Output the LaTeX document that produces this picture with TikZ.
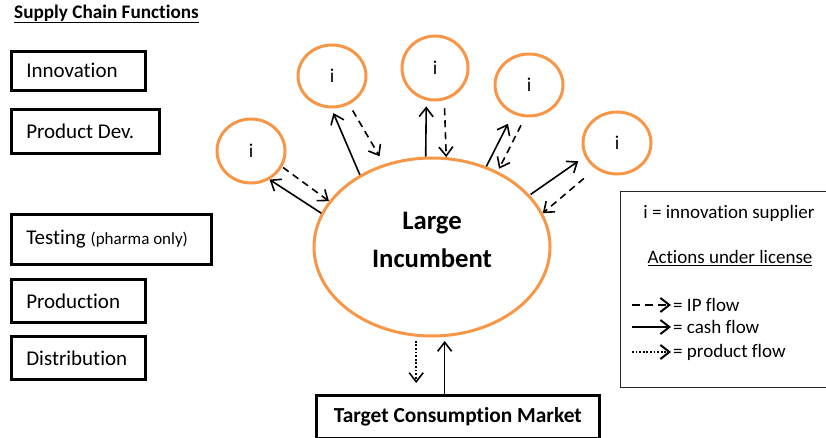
\documentclass[tikz,border=0pt]{standalone}
\usepackage{fontspec}
\setmainfont{Carlito}[Ligatures=NoCommon]
\usetikzlibrary{arrows.meta,shapes.geometric}
\definecolor{accent}{HTML}{F79646}
\begin{document}
\begin{tikzpicture}[x=1pt,y=-1pt,
  >={Straight Barb[length=9pt,width=14pt]},
  fnbox/.style={draw=black, line width=2.6pt, anchor=north west, inner xsep=15pt,
    inner ysep=0pt, align=flush left, font=\fontsize{21}{24}\selectfont},
  supplier/.style={draw=accent, line width=3pt, ellipse, inner sep=0pt,
    font=\fontsize{19.5}{22}\selectfont},
  flow/.style={->, line width=1.6pt},
  cash/.style={flow},
  ip/.style={flow, dash pattern=on 7pt off 5pt},
  prod/.style={flow, dash pattern=on 1.8pt off 1.8pt},
  legtext/.style={font=\fontsize{19}{22}\selectfont, inner sep=2pt}
]
\useasboundingbox (0,0) rectangle (826,438);

% supply chain functions
\node[anchor=west, inner sep=0pt, font=\fontsize{19.2}{22}\selectfont\bfseries]
  (title) at (14,14) {\underline{Supply Chain Functions}};
\node[fnbox, text width=104pt, minimum height=39pt] (innov) at (10,50) {Innovation};
\node[fnbox, text width=118pt, minimum height=44pt] (pdev) at (10,108) {Product Dev.};
\node[fnbox, text width=170pt, minimum height=50pt] (test) at (10,213)
  {Testing {\fontsize{17}{19}\selectfont(pharma only)}};
\node[fnbox, text width=104pt, minimum height=43pt] (prodn) at (10,278) {Production};
\node[fnbox, text width=104pt, minimum height=43pt] (distr) at (10,335) {Distribution};

% incumbent and innovation suppliers
\node[draw=accent, line width=3pt, ellipse, inner sep=0pt,
  minimum width=236pt, minimum height=178pt] (big) at (432,247) {};
\node[align=center, font=\fontsize{26.7}{38}\selectfont\bfseries] (bigtext) at (432,240)
  {Large\\Incumbent};

\node[supplier, minimum width=68pt, minimum height=64pt] (c1) at (251,151) {i};
\node[supplier, minimum width=68pt, minimum height=62pt] (c2) at (332,76) {i};
\node[supplier, minimum width=66pt, minimum height=64pt] (c3) at (435,68) {i};
\node[supplier, minimum width=68pt, minimum height=62pt] (c4) at (529,85) {i};
\node[supplier, minimum width=68pt, minimum height=62pt] (c5) at (617,143) {i};

% licensing flows
\draw[cash] (big.163) -- (c1.-57);
\draw[ip, shorten <=1pt] (c1.-27) -- (big.156);
\draw[cash, shorten >=5pt] (big.135) -- (c2.-91.5);
\draw[ip, shorten <=7pt, shorten >=9pt] (c2.-59) -- (big.120);
\draw[cash, shorten >=6pt] (big.94.5) -- (c3.-105);
\draw[ip, shorten <=8pt] (c3.-74) -- (big.81);
\draw[cash, shorten >=11pt] (big.56) -- (c4.-119.6);
\draw[ip, shorten <=9pt, shorten >=3pt] (c4.-97) -- (big.49);
\draw[cash, shorten <=1pt, shorten >=8pt] (big.28) -- (c5.-157.7);
\draw[ip, shorten <=15pt] (c5.-130) -- (big.17);

% market
\node[draw=black, line width=2.6pt, anchor=north west, minimum width=283pt,
  minimum height=43pt, font=\fontsize{21.4}{24}\selectfont\bfseries] (market) at (315,394)
  {Target Consumption Market};
\draw[prod, shorten <=4pt, shorten >=11pt] (big.-100.3) -- (big.-100.3 |- market.north);
\draw[cash, shorten >=4pt] (market.north -| big.-82.3) -- (big.-82.3);

% legend
\node[draw=black!85, line width=1.2pt, anchor=north west, minimum width=215pt,
  minimum height=196pt] (legend) at (620,191) {};
\node[legtext] (lsupp) at (729,213) {i = innovation supplier};
\node[legtext] (lact) at (730,258) {\underline{Actions under license}};
\node[legtext, anchor=west] (lip) at (671,305) {= IP flow};
\node[legtext, anchor=west] (lcash) at (671,327) {= cash flow};
\node[legtext, anchor=west] (lprod) at (671,352) {= product flow};
\coordinate (sip) at (632,305);
\coordinate (scash) at (632,327);
\coordinate (sprod) at (632,352);
\draw[ip, dash pattern=on 8pt off 5pt, line width=2pt] (sip) -- (lip.west);
\draw[cash, line width=2pt] (scash) -- (lcash.west);
\draw[prod, line width=2pt] (sprod) -- (lprod.west);
\end{tikzpicture}
\end{document}
